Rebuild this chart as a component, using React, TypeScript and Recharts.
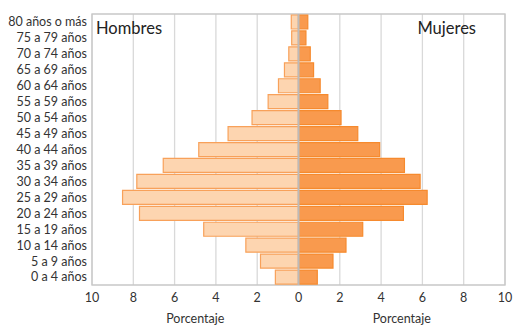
import React from 'react';
import { BarChart, Bar, XAxis, YAxis, CartesianGrid, ReferenceLine, ReferenceArea } from 'recharts';

const ageGroups = [
  '80 años o más', '75 a 79 años', '70 a 74 años', '65 a 69 años', '60 a 64 años',
  '55 a 59 años', '50 a 54 años', '45 a 49 años', '40 a 44 años', '35 a 39 años',
  '30 a 34 años', '25 a 29 años', '20 a 24 años', '15 a 19 años', '10 a 14 años',
  '5 a 9 años', '0 a 4 años',
];
const hombres = [0.35, 0.33, 0.47, 0.68, 0.97, 1.47, 2.25, 3.41, 4.83, 6.55, 7.83, 8.52, 7.7, 4.59, 2.55, 1.84, 1.12];
const mujeres = [0.45, 0.36, 0.57, 0.73, 1.05, 1.42, 2.06, 2.87, 3.93, 5.13, 5.89, 6.23, 5.08, 3.11, 2.3, 1.67, 0.91];
const xTicks = [-10, -8, -6, -4, -2, 0, 2, 4, 6, 8, 10];
const axisTitle = 'Porcentaje';
const leftTitle = 'Hombres';
const rightTitle = 'Mujeres';

const data = ageGroups.map((g, i) => ({ grupo: g, hombres: -hombres[i], mujeres: mujeres[i] }));

const FONT = 'Lato, "Open Sans", sans-serif';

const XTitles = (props: any) => {
  const vb = props.viewBox || {};
  const y = vb.y + 38;
  return (
    <g>
      <text x={vb.x + vb.width / 4} y={y} textAnchor="middle" fontSize={12.5} fill="#333" fontFamily={FONT}>{axisTitle}</text>
      <text x={vb.x + (vb.width * 3) / 4} y={y} textAnchor="middle" fontSize={12.5} fill="#333" fontFamily={FONT}>{axisTitle}</text>
    </g>
  );
};

const LeftTitle = (props: any) => {
  const vb = props.viewBox || {};
  return <text x={vb.x + 4} y={vb.y + 20} fontSize={16.5} fill="#222" fontFamily={FONT}>{leftTitle}</text>;
};
const RightTitle = (props: any) => {
  const vb = props.viewBox || {};
  return <text x={vb.x - 29} y={vb.y + 20} textAnchor="end" fontSize={16.5} fill="#222" fontFamily={FONT}>{rightTitle}</text>;
};

export default function App() {
  return (
    <div style={{ position: 'absolute', left: 0, top: 0, background: '#fff' }}>
      <BarChart
        width={513}
        height={325}
        data={data}
        layout="vertical"
        stackOffset="sign"
        barCategoryGap={1}
        margin={{ top: 14, right: 8, bottom: 10, left: 0 }}
      >
        <CartesianGrid horizontal={false} stroke="#D9D9D9" strokeWidth={1.3} />
        <XAxis
          type="number"
          domain={[-10, 10]}
          ticks={xTicks}
          tickFormatter={(v: number) => String(Math.abs(v))}
          axisLine={false}
          tickLine={false}
          height={30}
          tick={{ fontSize: 12.5, fill: '#333', fontFamily: FONT }}
          label={<XTitles />}
        />
        <YAxis
          type="category"
          dataKey="grupo"
          width={92}
          axisLine={false}
          tickLine={false}
          tickSize={3}
          tickMargin={2}
          interval={0}
          tick={{ fontSize: 12.5, fill: '#333', fontFamily: FONT }}
        />
        <ReferenceArea x1={-10} x2={10} fill="none" stroke="#C8C8C8" strokeWidth={1.3} ifOverflow="visible" />
        <Bar dataKey="hombres" stackId="a" fill="#FDD5B0" stroke="#F8A15A" strokeWidth={1.2} isAnimationActive={false} />
        <Bar dataKey="mujeres" stackId="a" fill="#F99A4E" stroke="#F68A2E" strokeWidth={1.2} isAnimationActive={false} />
        <ReferenceLine x={0} stroke="#BBBBBB" strokeWidth={2} />
        <ReferenceLine x={-10} stroke="none" label={<LeftTitle />} />
        <ReferenceLine x={10} stroke="none" label={<RightTitle />} />
      </BarChart>
    </div>
  );
}
